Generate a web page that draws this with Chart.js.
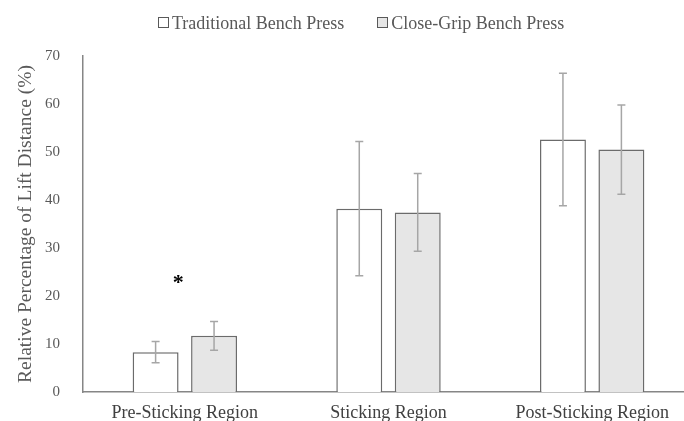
<!DOCTYPE html>
<html>
<head>
<meta charset="utf-8">
<script src="https://cdn.jsdelivr.net/npm/chart.js@4.4.0/dist/chart.umd.min.js"></script>
<style>
    html, body { margin: 0; padding: 0; background: #fff; overflow: hidden; }
    #wrap { position: relative; width: 700px; height: 430px; }
    .legend {
        position: absolute; top: 11px; left: 158px;
        font-family: "Liberation Serif", serif; font-size: 18px; color: #595959;
        white-space: nowrap; line-height: 24px;
    }
    .legend span { margin-right: 33px; }
    .legend i {
        display: inline-block; width: 9px; height: 9px; border: 1px solid #595959;
        margin-right: 3px; vertical-align: 1px;
    }
</style>
</head>
<body>
<div id="wrap">
    <canvas id="chart" width="700" height="430"></canvas>
    <div class="legend" id="legend"></div>
</div>
<script>
// Relative percentage of lift distance by region

const categories = ['Pre-Sticking Region', 'Sticking Region', 'Post-Sticking Region'];
const seriesNames = ['Traditional Bench Press', 'Close-Grip Bench Press'];
const traditionalMean = [8.3, 38.2, 52.6];
const traditionalSD = [2.2, 14.0, 13.8];
const closeGripMean = [11.7, 37.4, 50.5];
const closeGripSD = [3.0, 8.1, 9.3];
const yTicks = [0, 10, 20, 30, 40, 50, 60, 70];
const significance = [{ index: 0, value: 23.5, text: '*' }];

const fills = ['#ffffff', '#e6e6e6'];
const edge = '#6b6b6b';

// legend (html, drawn over the canvas)
const legendEl = document.getElementById('legend');
seriesNames.forEach((name, i) => {
    const s = document.createElement('span');
    s.innerHTML = `<i style="background:${fills[i]}"></i>${name}`;
    legendEl.appendChild(s);
});

const errorBars = {
    id: 'errorBars',
    afterDatasetsDraw(chart) {
        const ctx = chart.ctx;
        const y = chart.scales.y;
        ctx.save();
        ctx.strokeStyle = '#a6a6a6';
        ctx.lineWidth = 1.5;
        chart.data.datasets.forEach((ds, di) => {
            const meta = chart.getDatasetMeta(di);
            meta.data.forEach((bar, i) => {
                const top = y.getPixelForValue(ds.data[i] + ds.sd[i]);
                const bot = y.getPixelForValue(ds.data[i] - ds.sd[i]);
                const x = bar.x;
                ctx.beginPath();
                ctx.moveTo(x, top); ctx.lineTo(x, bot);
                ctx.moveTo(x - 4, top); ctx.lineTo(x + 4, top);
                ctx.moveTo(x - 4, bot); ctx.lineTo(x + 4, bot);
                ctx.stroke();
            });
        });
        // significance marks
        ctx.fillStyle = '#000';
        ctx.font = 'bold 22px "Liberation Serif"';
        ctx.textAlign = 'center';
        ctx.textBaseline = 'middle';
        significance.forEach(m => {
            const x = chart.scales.x.getPixelForValue(m.index) - 6.5;
            ctx.fillText(m.text, x, y.getPixelForValue(m.value) + 4);
        });
        ctx.restore();
    }
};

new Chart(document.getElementById('chart'), {
    type: 'bar',
    data: {
        labels: categories,
        datasets: [
            {
                label: seriesNames[0],
                data: traditionalMean,
                sd: traditionalSD,
                backgroundColor: fills[0],
                borderColor: edge,
                borderWidth: 1.5
            },
            {
                label: seriesNames[1],
                data: closeGripMean,
                sd: closeGripSD,
                backgroundColor: fills[1],
                borderColor: edge,
                borderWidth: 1.5
            }
        ]
    },
    options: {
        responsive: false,
        animation: false,
        categoryPercentage: 0.574,
        barPercentage: 0.786,
        layout: { padding: { top: 56, left: 14, right: 6, bottom: 6 } },
        plugins: {
            legend: { display: false },
            tooltip: { enabled: false }
        },
        scales: {
            x: {
                grid: { display: false, drawTicks: false },
                border: { color: '#868686', width: 1.5 },
                afterFit(axis) { axis.height = 32; axis.paddingLeft = 0; axis.paddingRight = 0; },
                ticks: {
                    color: '#404040',
                    padding: 10,
                    maxRotation: 0,
                    font: { family: 'Liberation Serif', size: 18 }
                }
            },
            y: {
                min: 0,
                max: 70,
                afterBuildTicks(axis) { axis.ticks = yTicks.map(v => ({ value: v })); },
                afterFit(axis) { axis.width = 69; },
                grid: { display: false, drawTicks: false },
                border: { color: '#868686', width: 1.5 },
                ticks: {
                    color: '#595959',
                    padding: 23,
                    font: { family: 'Liberation Serif', size: 15 }
                },
                title: {
                    display: true,
                    text: 'Relative Percentage of Lift Distance (%)',
                    color: '#595959',
                    padding: { top: 0, bottom: 8 },
                    font: { family: 'Liberation Serif', size: 19.5 }
                }
            }
        }
    },
    plugins: [errorBars]
});
</script>
</body>
</html>
